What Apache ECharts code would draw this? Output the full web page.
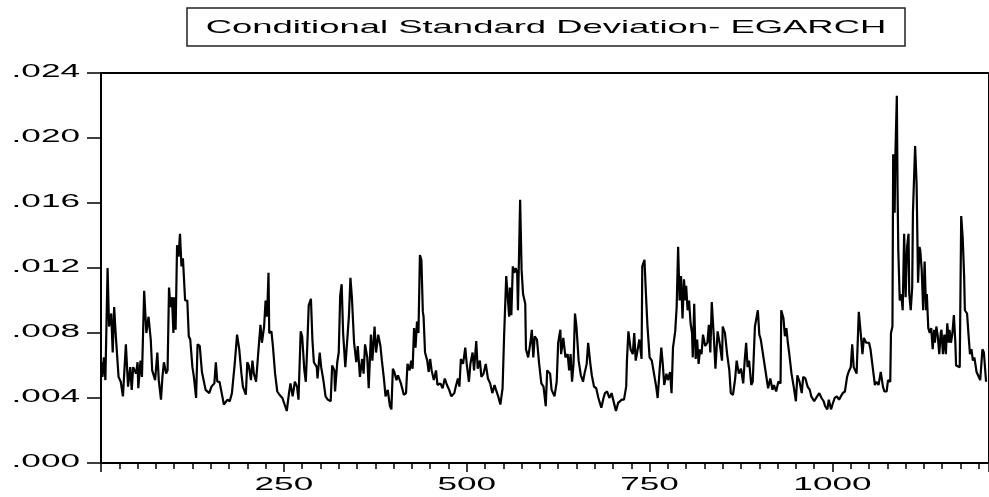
<!DOCTYPE html>
<html>
<head>
<meta charset="utf-8">
<script src="https://cdn.jsdelivr.net/npm/echarts@6/dist/echarts.min.js"></script>
<style>
  html, body { margin: 0; padding: 0; background: #fff; }
  #chart { width: 989px; height: 497px; }
</style>
</head>
<body>
<div id="chart"></div>
<script>
const titleText = 'Conditional Standard Deviation- EGARCH';
const yTicks = [0, 0.004, 0.008, 0.012, 0.016, 0.020, 0.024];
const xTickLabels = [250, 500, 750, 1000];

const obs = [
  1, 2, 4, 6, 9, 11, 14, 16, 18, 20, 24, 27, 30, 34, 37, 40, 42, 44, 48, 50,
  51, 54, 56, 59, 62, 65, 68, 70, 74, 77, 79, 82, 84, 86, 89, 91, 93, 95, 97, 99,
  100, 102, 104, 106, 108, 110, 112, 115, 118, 120, 122, 125, 127, 130, 132, 135, 138, 140, 143, 148,
  151, 155, 157, 159, 162, 165, 168, 170, 173, 176, 179, 183, 186, 189, 192, 194, 198, 200, 202, 205,
  207, 209, 212, 215, 218, 220, 223, 225, 227, 229, 230, 233, 235, 238, 241, 244, 248, 251, 254, 257,
  259, 262, 265, 268, 270, 273, 275, 278, 280, 282, 284, 287, 289, 291, 295, 296, 299, 301, 304, 307,
  310, 314, 316, 319, 320, 323, 325, 327, 329, 331, 334, 337, 339, 341, 343, 346, 349, 351, 354, 357,
  359, 361, 364, 366, 369, 371, 374, 376, 379, 382, 384, 387, 389, 392, 395, 397, 399, 401, 404, 406,
  410, 414, 417, 419, 422, 424, 426, 428, 430, 432, 434, 436, 438, 440, 441, 443, 446, 448, 450, 452,
  455, 458, 460, 464, 467, 470, 473, 476, 479, 483, 485, 488, 490, 492, 495, 498, 500, 503, 505, 508,
  510, 513, 515, 518, 520, 523, 526, 529, 532, 535, 538, 540, 543, 546, 549, 551, 554, 556, 558, 559,
  561, 563, 565, 567, 569, 570, 573, 575, 577, 580, 581, 584, 587, 589, 591, 593, 596, 599, 602, 605,
  608, 610, 614, 616, 620, 623, 625, 628, 629, 632, 635, 638, 640, 642, 644, 646, 648, 650, 653, 656,
  659, 661, 664, 666, 669, 671, 674, 677, 680, 684, 687, 689, 692, 695, 698, 700, 704, 707, 709, 712,
  715, 718, 719, 721, 724, 727, 729, 731, 733, 736, 739, 740, 743, 745, 747, 749, 750, 753, 756, 759,
  761, 764, 766, 768, 770, 773, 775, 778, 780, 782, 785, 787, 789, 791, 793, 795, 797, 799, 800, 802,
  804, 806, 808, 809, 811, 813, 815, 817, 819, 821, 823, 826, 829, 831, 833, 835, 838, 840, 843, 846,
  849, 850, 853, 856, 859, 861, 864, 867, 869, 872, 875, 878, 880, 882, 884, 886, 889, 891, 894, 896,
  898, 900, 902, 905, 908, 910, 912, 915, 918, 920, 923, 926, 929, 930, 933, 935, 937, 939, 941, 944,
  947, 950, 952, 955, 958, 960, 963, 966, 969, 971, 975, 979, 982, 985, 988, 990, 993, 995, 998, 1000,
  1003, 1006, 1009, 1011, 1014, 1017, 1020, 1022, 1025, 1027, 1029, 1031, 1033, 1036, 1039, 1041, 1043, 1046, 1048, 1050,
  1052, 1055, 1058, 1060, 1063, 1066, 1069, 1071, 1074, 1076, 1079, 1080, 1082, 1083, 1085, 1086, 1088, 1089, 1090, 1092,
  1094, 1096, 1098, 1099, 1100, 1102, 1104, 1105, 1107, 1109, 1110, 1113, 1115, 1117, 1119, 1120, 1122, 1124, 1126, 1128,
  1129, 1131, 1133, 1135, 1137, 1139, 1140, 1142, 1144, 1146, 1148, 1149, 1151, 1153, 1155, 1157, 1159, 1160, 1162, 1164,
  1166, 1168, 1169, 1171, 1174, 1176, 1178, 1180, 1181, 1184, 1186, 1188, 1190, 1192, 1194, 1197, 1199, 1202, 1205, 1207,
  1210
];

// conditional standard deviation at those observations
const sd = [
  .0062, .0053, .0065, .0051, .0120, .0084, .0092, .0068, .0096, .0080, .0053, .0050, .0041, .0073, .0047, .0059, .0045, .0059, .0055, .0062,
  .0046, .0063, .0053, .0106, .0080, .0090, .0076, .0057, .0051, .0068, .0051, .0039, .0053, .0062, .0055, .0057, .0108, .0096, .0102, .0080,
  .0102, .0082, .0134, .0127, .0141, .0121, .0126, .0100, .0100, .0078, .0076, .0059, .0053, .0040, .0073, .0072, .0056, .0055, .0045, .0043,
  .0047, .0049, .0062, .0050, .0050, .0043, .0036, .0035, .0039, .0038, .0043, .0062, .0079, .0070, .0055, .0047, .0042, .0062, .0060, .0051,
  .0063, .0055, .0050, .0068, .0085, .0074, .0084, .0100, .0090, .0117, .0080, .0081, .0072, .0055, .0044, .0042, .0040, .0036, .0032, .0043,
  .0049, .0041, .0050, .0047, .0039, .0081, .0078, .0057, .0050, .0072, .0097, .0101, .0076, .0062, .0059, .0052, .0068, .0059, .0051, .0041,
  .0039, .0038, .0060, .0057, .0044, .0062, .0068, .0103, .0110, .0080, .0059, .0078, .0091, .0114, .0102, .0074, .0062, .0072, .0053, .0064,
  .0055, .0073, .0065, .0046, .0079, .0063, .0084, .0068, .0079, .0072, .0063, .0051, .0041, .0045, .0035, .0033, .0058, .0056, .0051, .0054,
  .0049, .0042, .0043, .0061, .0057, .0063, .0058, .0083, .0071, .0087, .0080, .0128, .0125, .0093, .0090, .0068, .0063, .0056, .0064, .0057,
  .0051, .0057, .0048, .0049, .0046, .0052, .0048, .0045, .0041, .0043, .0047, .0052, .0047, .0064, .0061, .0071, .0061, .0050, .0061, .0068,
  .0057, .0075, .0058, .0063, .0053, .0055, .0061, .0052, .0049, .0043, .0048, .0045, .0041, .0036, .0046, .0077, .0115, .0115, .0090, .0108,
  .0091, .0121, .0117, .0120, .0117, .0094, .0162, .0119, .0104, .0098, .0070, .0065, .0074, .0082, .0065, .0078, .0076, .0061, .0049, .0047,
  .0035, .0057, .0055, .0045, .0041, .0050, .0074, .0082, .0067, .0077, .0065, .0067, .0057, .0067, .0050, .0061, .0092, .0084, .0063, .0054,
  .0050, .0055, .0061, .0074, .0061, .0054, .0047, .0046, .0040, .0034, .0040, .0043, .0044, .0040, .0043, .0043, .0032, .0037, .0036, .0039,
  .0039, .0047, .0063, .0081, .0070, .0067, .0080, .0063, .0068, .0076, .0064, .0121, .0125, .0104, .0085, .0084, .0065, .0063, .0055, .0047,
  .0040, .0059, .0071, .0061, .0048, .0055, .0051, .0056, .0043, .0071, .0081, .0096, .0133, .0100, .0115, .0089, .0113, .0100, .0109, .0094,
  .0100, .0086, .0080, .0065, .0098, .0064, .0076, .0061, .0070, .0067, .0079, .0072, .0074, .0085, .0068, .0099, .0076, .0058, .0081, .0073,
  .0063, .0084, .0080, .0067, .0057, .0043, .0042, .0052, .0063, .0055, .0058, .0049, .0063, .0074, .0059, .0063, .0048, .0050, .0084, .0085,
  .0094, .0079, .0076, .0067, .0058, .0052, .0046, .0052, .0045, .0048, .0044, .0050, .0049, .0094, .0089, .0078, .0083, .0074, .0067, .0055,
  .0047, .0038, .0054, .0050, .0043, .0053, .0052, .0047, .0045, .0041, .0038, .0041, .0043, .0040, .0038, .0035, .0033, .0039, .0033, .0036,
  .0040, .0041, .0039, .0040, .0043, .0044, .0053, .0056, .0059, .0073, .0059, .0057, .0055, .0093, .0078, .0067, .0077, .0074, .0075, .0074,
  .0070, .0059, .0048, .0050, .0048, .0056, .0047, .0044, .0044, .0051, .0050, .0080, .0084, .0190, .0154, .0189, .0226, .0168, .0131, .0100,
  .0104, .0094, .0141, .0121, .0102, .0133, .0141, .0104, .0094, .0108, .0154, .0195, .0172, .0111, .0133, .0131, .0119, .0094, .0124, .0094,
  .0104, .0083, .0080, .0083, .0070, .0082, .0074, .0084, .0078, .0067, .0080, .0082, .0067, .0079, .0067, .0086, .0074, .0082, .0074, .0080,
  .0091, .0074, .0060, .0059, .0059, .0152, .0139, .0115, .0094, .0092, .0079, .0067, .0070, .0063, .0065, .0056, .0054, .0051, .0070, .0068,
  .0050
];

const fontFamily = '"Liberation Sans", Arial, sans-serif';
const stretch = 1.9; // the original graph text is widened

const chart = echarts.init(document.getElementById('chart'));

chart.setOption({
  animation: false,
  grid: {
    left: 101, top: 73, right: -2, bottom: 34,
    show: true, borderColor: '#000', borderWidth: 2
  },
  xAxis: [
    {
      // minor ticks every 25 observations
      type: 'value', min: 0, max: 1214, interval: 25, position: 'bottom',
      axisLine: { lineStyle: { color: '#000', width: 2 } },
      axisTick: { length: 6, lineStyle: { color: '#000', width: 1.5 } },
      axisLabel: { show: false },
      splitLine: { show: false }
    },
    {
      type: 'value', min: 0, max: 1214, interval: 250, position: 'bottom',
      axisLine: { show: false },
      axisTick: { length: 9, lineStyle: { color: '#000', width: 1.5 } },
      axisLabel: { show: false },
      splitLine: { show: false }
    }
  ],
  yAxis: {
    type: 'value', min: 0, max: 0.024, interval: 0.004,
    axisLine: { show: true, lineStyle: { color: '#000', width: 2 } },
    axisTick: { show: true, length: 14, lineStyle: { color: '#000', width: 1.5 } },
    axisLabel: { show: false },
    splitLine: { show: false }
  },
  series: [{
    type: 'line',
    xAxisIndex: 0,
    data: obs.map((o, i) => [o, sd[i]]),
    showSymbol: false,
    lineStyle: { color: '#000', width: 2.2 }
  }]
});

// tick labels and title drawn as stretched text, placed from the axes
const fmtY = v => v.toFixed(3).replace(/^0/, '');

const labels = [];
yTicks.forEach(v => {
  const py = chart.convertToPixel({ yAxisIndex: 0 }, v);
  labels.push({
    type: 'text', x: 80, y: py - 1, scaleX: stretch,
    style: {
      text: fmtY(v), fontSize: 18.5, fontFamily: fontFamily, fill: '#000',
      align: 'right', verticalAlign: 'middle', textAlign: 'right', textVerticalAlign: 'middle'
    }
  });
});
xTickLabels.forEach(v => {
  const px = chart.convertToPixel({ xAxisIndex: 1 }, v);
  labels.push({
    type: 'text', x: px, y: 485, scaleX: stretch,
    style: {
      text: String(v), fontSize: 18.5, fontFamily: fontFamily, fill: '#000',
      align: 'center', verticalAlign: 'middle', textAlign: 'center', textVerticalAlign: 'middle'
    }
  });
});

chart.setOption({
  graphic: [
    {
      type: 'rect',
      shape: { x: 187, y: 8, width: 718, height: 38 },
      style: { fill: '#fff', stroke: '#222', lineWidth: 1.5 }
    },
    {
      type: 'text', x: 546, y: 28, scaleX: 1.97,
      style: {
        text: titleText, fontSize: 18.5, fontFamily: fontFamily, fill: '#000',
        align: 'center', verticalAlign: 'middle', textAlign: 'center', textVerticalAlign: 'middle'
      }
    }
  ].concat(labels)
});
</script>
</body>
</html>
